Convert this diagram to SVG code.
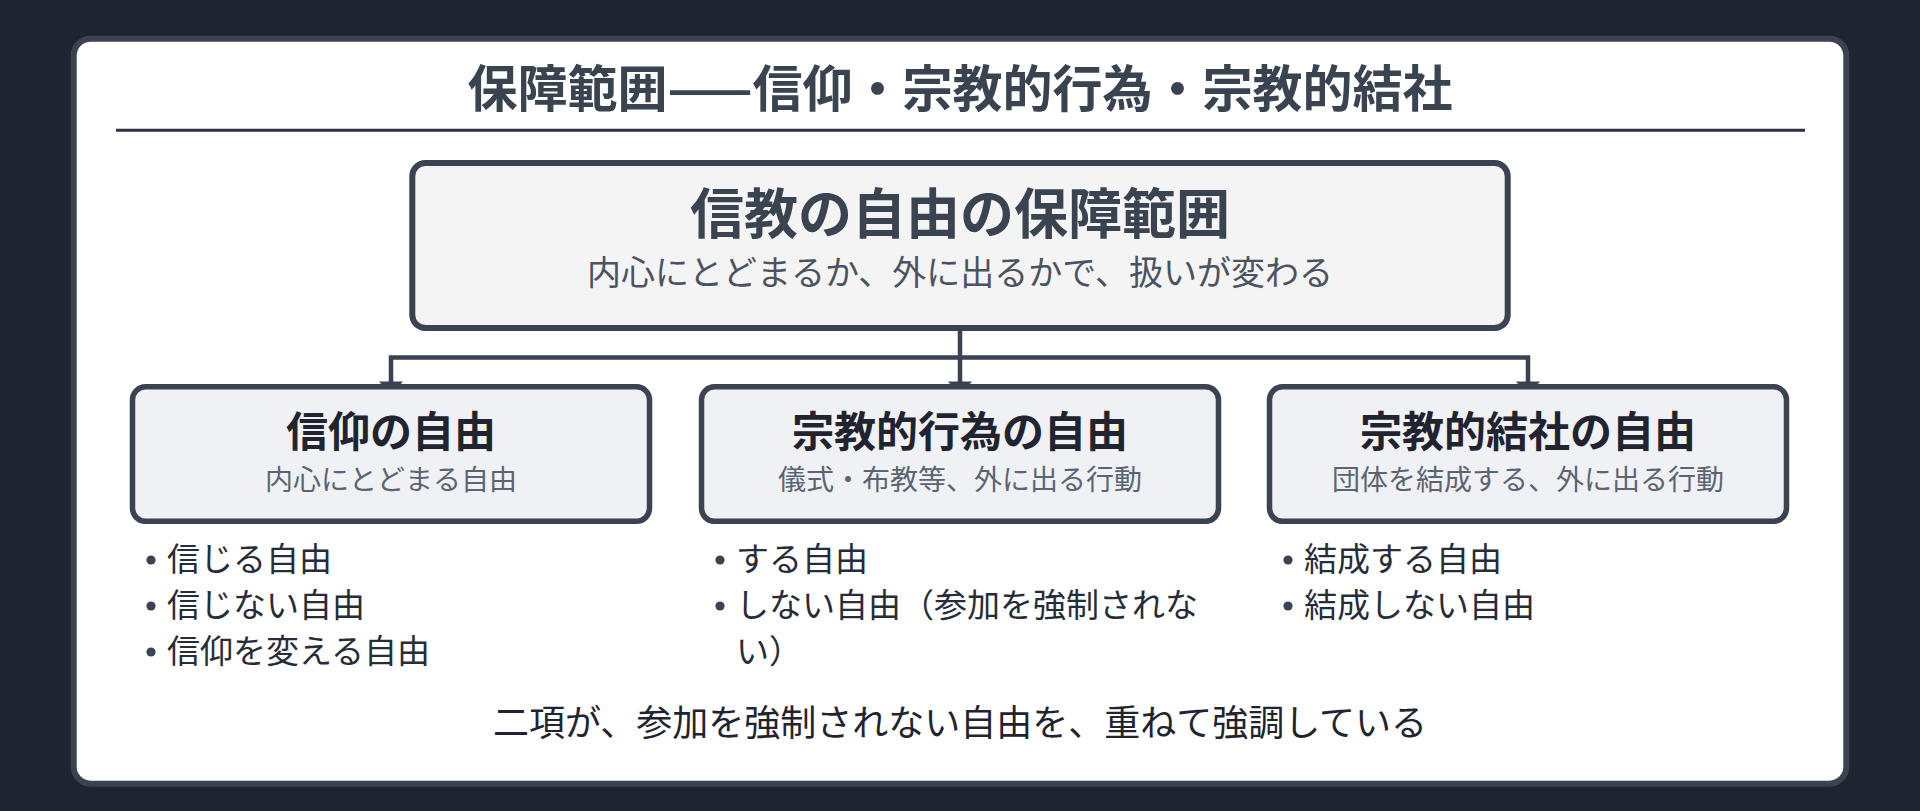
<svg xmlns="http://www.w3.org/2000/svg" width="1920" height="811" viewBox="0 0 1920 811">
<style>
text{font-family:"Noto Sans CJK JP","Noto Sans CJK SC",sans-serif}
.title{font-size:50px;font-weight:700;fill:#3a4350;text-anchor:middle}
.mt{font-size:54px;font-weight:700;fill:#3a4350;text-anchor:middle}
.ms{font-size:34px;fill:#4b5260;text-anchor:middle}
.bt{font-size:42px;font-weight:700;fill:#1f2430;text-anchor:middle}
.bs{font-size:28px;fill:#5b6472;text-anchor:middle}
.li{font-size:33px;fill:#262c38}
.foot{font-size:36px;fill:#1f2430;text-anchor:middle}
.box{fill:#eff1f5;stroke:#3b4352;stroke-width:5.5}
.dot{fill:#3b4352}
.con{fill:none;stroke:#3b4352;stroke-width:4.5}
.arr{fill:#3b4352}
</style>
<rect width="1920" height="811" fill="#1f2530"/>
<rect x="73.7" y="38.7" width="1772.6" height="745" rx="17" fill="#ffffff" stroke="#3b4352" stroke-width="6"/>
<g id="header">
<text class="title" x="960" y="106.5">保障範囲——信仰・宗教的行為・宗教的結社</text>
<line x1="116" y1="130.3" x2="1805" y2="130.3" stroke="#2d3340" stroke-width="3"/>
</g>
<g id="connectors">
<path class="con" d="M960 329 V357.5 M391 382 V357.5 H1528 V382 M960 357.5 V382"/>
<polygon class="arr" points="379,381.5 403,381.5 391,395"/>
<polygon class="arr" points="948,381.5 972,381.5 960,395"/>
<polygon class="arr" points="1516,381.5 1540,381.5 1528,395"/>
</g>
<g id="root">
<rect x="412.3" y="163" width="1095.4" height="165" rx="13" fill="#f4f4f5" stroke="#3b4352" stroke-width="6"/>
<text class="mt" x="960" y="233.5">信教の自由の保障範囲</text>
<text class="ms" x="960" y="284.5">内心にとどまるか、外に出るかで、扱いが変わる</text>
</g>
<g id="faith">
<rect class="box" x="132.5" y="386.8" width="517" height="134.5" rx="13"/>
<text class="bt" x="391" y="447">信仰の自由</text>
<text class="bs" x="391" y="490">内心にとどまる自由</text>
<circle class="dot" cx="151" cy="560" r="4.6"/>
<text class="li" x="167" y="571">信じる自由</text>
<circle class="dot" cx="151" cy="606" r="4.6"/>
<text class="li" x="167" y="617">信じない自由</text>
<circle class="dot" cx="151" cy="652" r="4.6"/>
<text class="li" x="167" y="663">信仰を変える自由</text>
</g>
<g id="act">
<rect class="box" x="701.5" y="386.8" width="517" height="134.5" rx="13"/>
<text class="bt" x="960" y="447">宗教的行為の自由</text>
<text class="bs" x="960" y="490">儀式・布教等、外に出る行動</text>
<circle class="dot" cx="720" cy="560" r="4.6"/>
<text class="li" x="736" y="571">する自由</text>
<circle class="dot" cx="720" cy="606" r="4.6"/>
<text class="li" x="736" y="617">しない自由（参加を強制されな</text>
<text class="li" x="736" y="663">い）</text>
</g>
<g id="assoc">
<rect class="box" x="1269.5" y="386.8" width="517" height="134.5" rx="13"/>
<text class="bt" x="1528" y="447">宗教的結社の自由</text>
<text class="bs" x="1528" y="490">団体を結成する、外に出る行動</text>
<circle class="dot" cx="1288" cy="560" r="4.6"/>
<text class="li" x="1304" y="571">結成する自由</text>
<circle class="dot" cx="1288" cy="606" r="4.6"/>
<text class="li" x="1304" y="617">結成しない自由</text>
</g>
<g id="note">
<text class="foot" x="960" y="735.5">二項が、参加を強制されない自由を、重ねて強調している</text>
</g>
</svg>
